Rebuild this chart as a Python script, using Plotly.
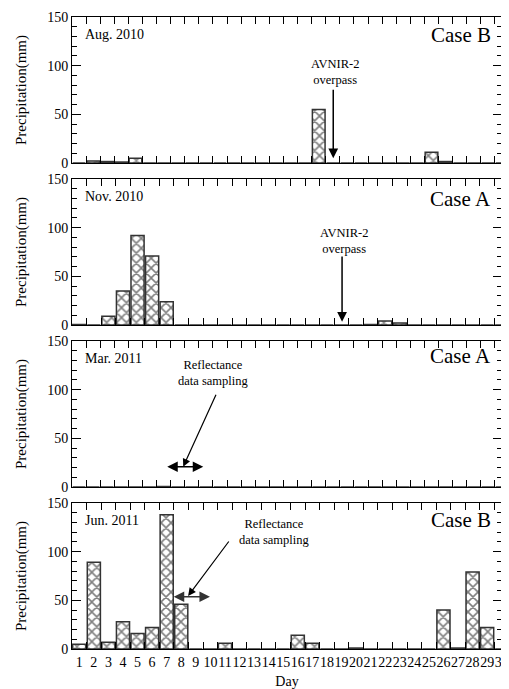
import plotly.graph_objects as go
from plotly.subplots import make_subplots

# ---------------- data ----------------
days_31 = list(range(1, 32))
days_30 = list(range(1, 31))

aug_2010 = [0, 2, 1.5, 1, 5, 0, 0, 0, 0, 0, 0, 0, 0, 0, 0, 0, 0, 55, 0, 0,
            0, 0, 0, 0, 0, 11, 1.5, 0, 0, 0, 0]
nov_2010 = [0.5, 0, 9, 35, 92, 71, 24, 0, 0, 0, 0, 0, 0, 0, 0, 0, 0, 0, 0, 0,
            0.5, 4, 2, 0, 0, 0, 0, 0, 0, 0]
mar_2011 = [0, 0, 0, 0, 0, 0, 0.5, 0, 0, 0, 0, 0, 0, 0, 0, 0, 0, 0, 0, 0,
            0, 0, 0, 0, 0, 0, 0, 0, 0, 0, 0]
jun_2011 = [5, 89, 7, 28, 16, 22, 138, 46, 0, 0, 6, 0, 0, 0, 0, 14, 6, 0, 0, 1,
            0, 0, 0, 0, 0, 40, 1, 79, 22, 0]

months = ["Aug. 2010", "Nov. 2010", "Mar. 2011", "Jun. 2011"]
cases = ["Case B", "Case A", "Case A", "Case B"]

panels = [(days_31, aug_2010), (days_30, nov_2010), (days_31, mar_2011), (days_30, jun_2011)]

FONT = "Liberation Serif"
BLACK = "black"

fig = make_subplots(rows=4, cols=1, vertical_spacing=16 / 632)

x_minor = dict(ticks="inside", ticklen=7, tick0=0.5, dtick=1, tickcolor=BLACK, tickwidth=1)
y_minor = dict(ticks="inside", ticklen=5, dtick=10, tickcolor=BLACK, tickwidth=1)

for i, (dd, vals) in enumerate(panels, start=1):
    fig.add_trace(go.Bar(
        x=dd, y=vals, width=0.9,
        marker=dict(color="white",
                    line=dict(color="#333333", width=1.5),
                    pattern=dict(shape="x", fgcolor="black", bgcolor="white",
                                 size=7, solidity=0.4)),
        showlegend=False, hoverinfo="x+y"),
        row=i, col=1)
    last = dd[-1]
    xr = [0.5, last + (0.02 if last == 30 else 0)]
    fig.update_xaxes(
        range=xr, automargin=False,
        showline=True, linecolor=BLACK, linewidth=1, mirror=True,
        tickvals=dd, ticktext=[str(d) for d in dd], tickangle=0,
        ticks="inside", ticklen=0,
        minor=x_minor,
        showgrid=False, zeroline=False,
        showticklabels=(i == 4),
        tickfont=dict(family=FONT, size=14, color=BLACK),
        row=i, col=1)
    fig.update_yaxes(
        range=[0, 150], dtick=50, tick0=0, automargin=False,
        showline=True, linecolor=BLACK, linewidth=1, mirror=True,
        ticks="inside", ticklen=9, tickcolor=BLACK,
        minor=y_minor,
        showgrid=False, zeroline=False,
        tickfont=dict(family=FONT, size=14, color=BLACK),
        title=dict(text="Precipitation(mm)", font=dict(family=FONT, size=15, color=BLACK), standoff=16),
        row=i, col=1)

    # mirrored tick axes (top and right) for minor ticks
    k = i + 4
    sfx = "" if i == 1 else str(i)
    fig.update_layout(**{
        f"xaxis{k}": dict(overlaying=f"x{sfx}", anchor=f"y{sfx}", side="top", range=xr,
                          tickvals=dd, ticks="inside", ticklen=0, minor=x_minor,
                          showticklabels=False, showgrid=False, zeroline=False,
                          showline=False, automargin=False),
        f"yaxis{k}": dict(overlaying=f"y{sfx}", anchor=f"x{sfx}", side="right", range=[0, 150],
                          dtick=50, tick0=0, ticks="inside", ticklen=9, tickcolor=BLACK,
                          minor=y_minor, showticklabels=False, showgrid=False,
                          zeroline=False, showline=False, automargin=False),
    })
    fig.add_trace(go.Scatter(x=dd, y=vals, xaxis=f"x{k}", yaxis=f"y{k}", mode="markers",
                             marker=dict(opacity=0), showlegend=False, hoverinfo="skip"))

fig.update_xaxes(title=dict(text="Day", font=dict(family=FONT, size=14, color=BLACK), standoff=8),
                 row=4, col=1)

ann = []
case_y = [0.875, 0.86, 0.9, 0.885]
for i in range(4):
    sfx = "" if i == 0 else str(i + 1)
    ann.append(dict(text=months[i], xref=f"x{sfx} domain", yref=f"y{sfx} domain",
                    x=0.025, y=0.877, xanchor="left", yanchor="middle", showarrow=False,
                    font=dict(family=FONT, size=14, color=BLACK)))
    ann.append(dict(text=cases[i], xref=f"x{sfx} domain", yref=f"y{sfx} domain",
                    x=0.98, y=case_y[i], xanchor="right", yanchor="middle", showarrow=False,
                    font=dict(family=FONT, size=21, color=BLACK)))

txt = dict(family=FONT, size=12.5, color=BLACK)
ann += [
    # Panel 1 AVNIR-2 overpass
    dict(text="AVNIR-2<br>overpass", xref="x", yref="y", x=19.15, y=93.5, showarrow=False, font=txt),
    dict(text="", xref="x", yref="y", axref="x", ayref="y", x=19.03, y=4.8, ax=19.03, ay=76.7,
         showarrow=True, arrowhead=2, arrowsize=1.3, arrowwidth=1.5, arrowcolor=BLACK, standoff=0),
    # Panel 2
    dict(text="AVNIR-2<br>overpass", xref="x2", yref="y2", x=19.16, y=86, showarrow=False, font=txt),
    dict(text="", xref="x2", yref="y2", axref="x2", ayref="y2", x=19.04, y=3.4, ax=19.04, ay=72,
         showarrow=True, arrowhead=2, arrowsize=1.3, arrowwidth=1.5, arrowcolor=BLACK, standoff=0),
    # Panel 3
    dict(text="Reflectance<br>data sampling", xref="x3", yref="y3", x=10.52, y=117, showarrow=False, font=txt),
    dict(text="", xref="x3", yref="y3", axref="x3", ayref="y3", x=8.39, y=20.9, ax=10.76, ay=96.3,
         showarrow=True, arrowhead=2, arrowsize=1.3, arrowwidth=1.2, arrowcolor=BLACK, standoff=0),
    dict(text="", xref="x3", yref="y3", axref="x3", ayref="y3", x=9.81, y=20.9, ax=7.15, ay=20.9,
         showarrow=True, arrowhead=2, arrowside="end+start", arrowsize=1.4, arrowwidth=1.5,
         arrowcolor=BLACK, standoff=0, startstandoff=0, startarrowhead=2, startarrowsize=1.4),
    # Panel 4
    dict(text="Reflectance<br>data sampling", xref="x4", yref="y4", x=14.4, y=120, showarrow=False, font=txt),
    dict(text="", xref="x4", yref="y4", axref="x4", ayref="y4", x=8.47, y=54.5, ax=11.34, ay=112,
         showarrow=True, arrowhead=2, arrowsize=1.3, arrowwidth=1.2, arrowcolor=BLACK, standoff=0),
    dict(text="", xref="x4", yref="y4", axref="x4", ayref="y4", x=9.97, y=53.7, ax=7.38, ay=53.7,
         showarrow=True, arrowhead=2, arrowside="end+start", arrowsize=1.4, arrowwidth=1.5,
         arrowcolor="#333", standoff=0, startstandoff=0, startarrowhead=2, startarrowsize=1.4),
]

# The page body adds an 8px margin, so the figure is sized to fit the 509x689 window.
fig.update_layout(
    width=501, height=681,
    margin=dict(l=64, r=7, t=9, b=40),
    paper_bgcolor="white", plot_bgcolor="white",
    bargap=0.1,
    annotations=ann,
    font=dict(family=FONT, color=BLACK),
)

fig.write_html("out.html")
